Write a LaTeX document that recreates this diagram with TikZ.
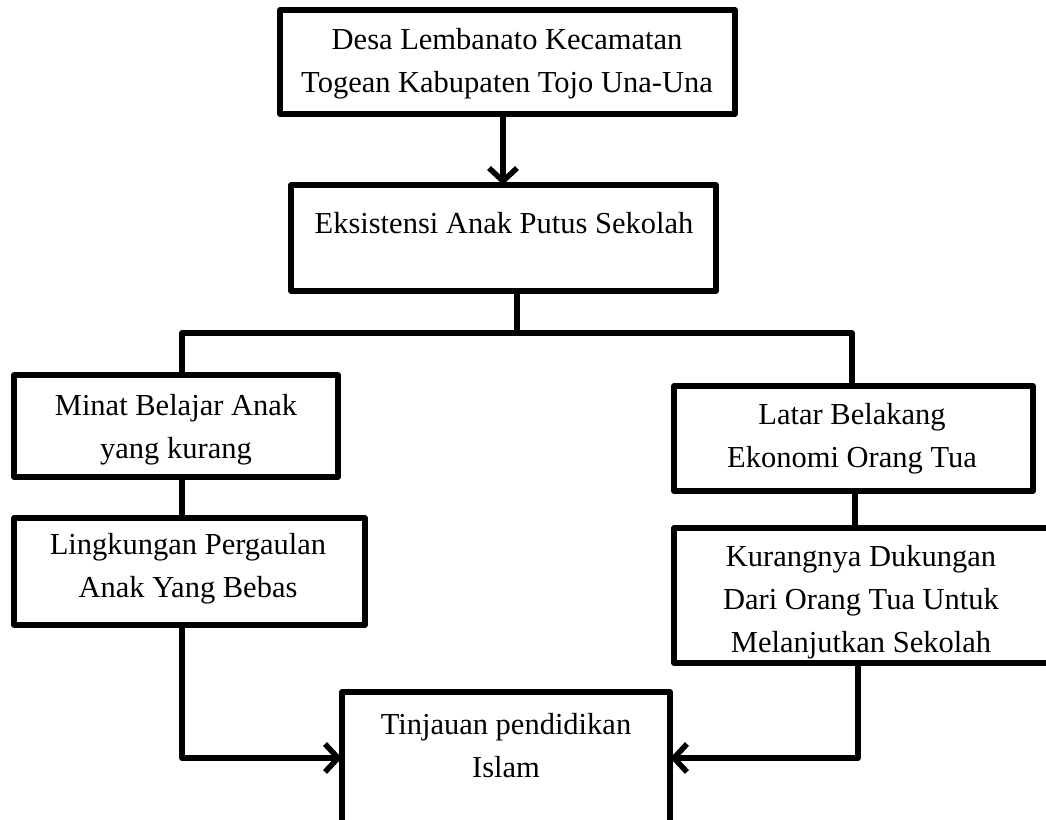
\documentclass[tikz,border=0pt]{standalone}
\usepackage{fontspec}
\setmainfont{Liberation Serif}
\usetikzlibrary{arrows.meta}
\begin{document}
\begin{tikzpicture}[x=1pt,y=-1pt,
  box/.style={draw=black,line width=5.5pt,line join=round},
  txt/.style={font=\fontsize{30.5}{43}\selectfont,align=center,inner sep=0pt},
  conn/.style={line width=5.5pt,line join=round},
  arr/.style={conn,-{Straight Barb[length=13pt,width=28pt,line width=5.5pt]}}]
\useasboundingbox (0,0) rectangle (1046,819);
\clip (0,0) rectangle (1046,819);
\fill[white] (0,0) rectangle (1046,819);
% boxes
\draw[box] (280,10) rectangle (735,114);
\node[inner sep=0pt,minimum width=455pt,minimum height=104pt] (top) at (507.5,62) {};
\draw[box] (291,185) rectangle (716,291);
\node[inner sep=0pt,minimum width=425pt,minimum height=106pt] (eks) at (503.5,238) {};
\draw[box] (14,375) rectangle (338,477);
\node[inner sep=0pt,minimum width=324pt,minimum height=102pt] (minat) at (176,426) {};
\draw[box] (14,518) rectangle (365,625);
\node[inner sep=0pt,minimum width=351pt,minimum height=107pt] (ling) at (189.5,571.5) {};
\draw[box] (674,386) rectangle (1033,491);
\node[inner sep=0pt,minimum width=359pt,minimum height=105pt] (latar) at (853.5,438.5) {};
\draw[box] (674,528) rectangle (1070,663);
\node[inner sep=0pt,minimum width=396pt,minimum height=135pt] (kur) at (872,595.5) {};
\draw[box] (342,692) rectangle (670,840);
\node[inner sep=0pt,minimum width=328pt,minimum height=148pt] (tin) at (506,766) {};
% texts
\node[txt] (ttop) at (507,64) {Desa Lembanato Kecamatan\\Togean Kabupaten Tojo Una-Una};
\node[txt] (teks) at (504,223) {Eksistensi Anak Putus Sekolah};
\node[txt] (tminat) at (176,430) {Minat Belajar Anak\\yang kurang};
\node[txt] (tling) at (188,569) {Lingkungan Pergaulan\\Anak Yang Bebas};
\node[txt] (tlatar) at (852,439) {Latar Belakang\\Ekonomi Orang Tua};
\node[txt] (tkur) at (861,602) {Kurangnya Dukungan\\Dari Orang Tua Untuk\\Melanjutkan Sekolah};
\node[txt] (ttin) at (506,746) {Tinjauan pendidikan\\Islam};
% connectors
\coordinate (split) at (517,333);
\draw[arr] (top.south -| 503,0) -- (eks.north -| 503,0);
\draw[conn] (eks.south -| split) -- (split);
\draw[conn] (split) -- (182,333) -- (minat.north -| 182,0);
\draw[conn] (split) -- (852,333) -- (latar.north -| 852,0);
\draw[conn] (minat.south -| 182,0) -- (ling.north -| 182,0);
\draw[conn] (latar.south -| 855,0) -- (kur.north -| 855,0);
\draw[arr] (ling.south -| 182,0) -- (182,758) -- (tin.west |- 0,758);
\draw[arr] (kur.south -| 858,0) -- (858,758) -- (tin.east |- 0,758);
\end{tikzpicture}
\end{document}
